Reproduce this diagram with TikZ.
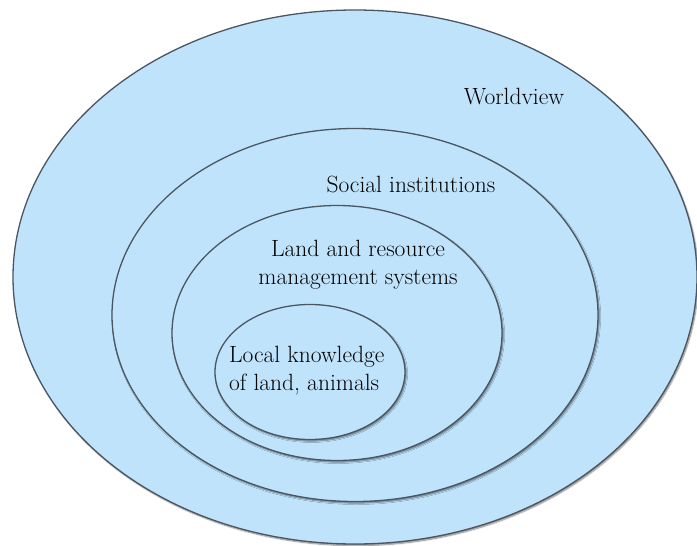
\documentclass[tikz,border=0pt]{standalone}
\usetikzlibrary{shapes.geometric,shadows.blur}
\definecolor{ringfill}{HTML}{C0E3FC}
\definecolor{ringedge}{HTML}{4B5663}
\tikzset{
  ring/.style={ellipse, inner sep=0pt, fill=ringfill, draw=ringedge, line width=1.3pt,
    blur shadow={shadow xshift=1.2pt, shadow yshift=-1.6pt, shadow blur steps=6,
      shadow blur radius=1.4pt, shadow opacity=50}},
  ringtext/.style={font=\fontsize{23.5}{28}\selectfont, inner sep=0pt, text=black}
}
\begin{document}
\begin{tikzpicture}[x=1pt,y=-1pt]
  \useasboundingbox (0,0) rectangle (697,546);
  % nested rings, outermost first
  \node[ring, minimum width=684pt, minimum height=534pt] (world) at (355,277) {};
  \node[ring, minimum width=486pt, minimum height=373pt] (social) at (355,315) {};
  \node[ring, minimum width=330pt, minimum height=255pt] (land) at (337,333) {};
  \node[ring, minimum width=190pt, minimum height=135pt] (local) at (310,372) {};
  % ring labels
  \node[ringtext] (worldtxt) at (514,97) {Worldview};
  \node[ringtext] (socialtxt) at (411,184) {Social institutions};
  \node[ringtext, align=center] (landtxt) at (358,265) {Land and resource\\management systems};
  \node[ringtext, align=left, anchor=west] (localtxt) at (229,371) {Local knowledge\\of land, animals};
\end{tikzpicture}
\end{document}
